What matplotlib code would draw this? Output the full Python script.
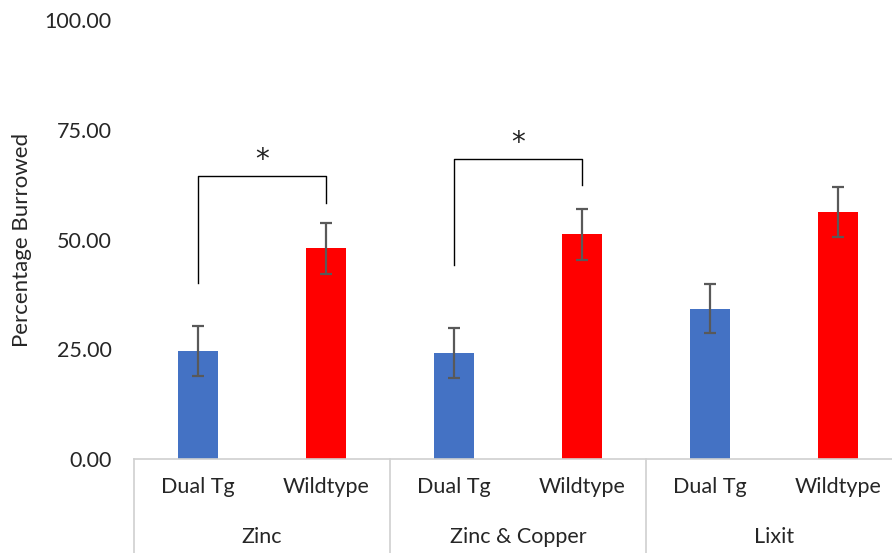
import numpy as np
import matplotlib
matplotlib.use('Agg')
import matplotlib.pyplot as plt

plt.rcParams['font.family'] = ['Lato', 'DejaVu Sans']

groups = ['Zinc', 'Zinc & Copper', 'Lixit']
genotypes = ['Dual Tg', 'Wildtype']
dual_tg = [24.7, 24.1, 34.2]
wildtype = [48.0, 51.2, 56.2]
dual_tg_err = [5.7, 5.7, 5.6]
wildtype_err = [5.8, 5.8, 5.7]

# significance brackets: (left bar, right bar, left foot, right foot, top)
brackets = [(0, 1, 40.1, 58.3, 64.5), (2, 3, 44.2, 62.4, 68.3)]

values = [v for pair in zip(dual_tg, wildtype) for v in pair]
errors = [e for pair in zip(dual_tg_err, wildtype_err) for e in pair]
colors = ['#4472C4', '#FF0000'] * len(groups)
x = np.arange(len(values))

fig = plt.figure(figsize=(8.92, 5.53), dpi=100)
ax = fig.add_axes([134 / 892, 1 - 459 / 553, 768 / 892, 439 / 553])

ax.bar(x, values, width=0.305, color=colors, zorder=2)
ax.errorbar(x, values, yerr=errors, fmt='none', ecolor='#595959',
            elinewidth=1.6, capsize=4.5, capthick=1.6, zorder=3)

for l, r, yl, yr, top in brackets:
    ax.plot([l, l, r, r], [yl, top, top, yr], color='black', lw=1.0, zorder=4)
    ax.text((l + r) / 2, top + 0.5, '*', ha='center', va='bottom',
            fontsize=20, color='#222222', family='DejaVu Sans')

ax.set_xlim(-0.5, len(values) - 0.5)
ax.set_ylim(0, 100)
ax.set_yticks([0, 25, 50, 75, 100])
ax.set_yticklabels(['%.2f' % t for t in [0, 25, 50, 75, 100]])
ax.tick_params(axis='y', length=0, pad=16, labelsize=15.5, labelcolor='#262626')

ax.set_xticks(x)
ax.set_xticklabels(genotypes * len(groups))
ax.tick_params(axis='x', length=0, pad=13, labelsize=15.5, labelcolor='#262626')

for s in ['top', 'right', 'left']:
    ax.spines[s].set_visible(False)
ax.spines['bottom'].set_color('#d0d0d0')
ax.spines['bottom'].set_linewidth(1.2)

# group separators and labels below the axis
for i in range(len(groups) + 1):
    ax.plot([2 * i - 0.5, 2 * i - 0.5], [0, -0.25], color='#d0d0d0', lw=1.2,
            transform=ax.get_xaxis_transform(), clip_on=False)
for i, g in enumerate(groups):
    ax.text(2 * i + 0.5, -0.178, g, ha='center', va='center', fontsize=15.5,
            color='#262626', transform=ax.get_xaxis_transform())

ax.set_ylabel('Percentage Burrowed', fontsize=16, color='#262626')
ax.yaxis.set_label_coords(-0.133, 0.5)

fig.savefig('out.png', dpi=100)
